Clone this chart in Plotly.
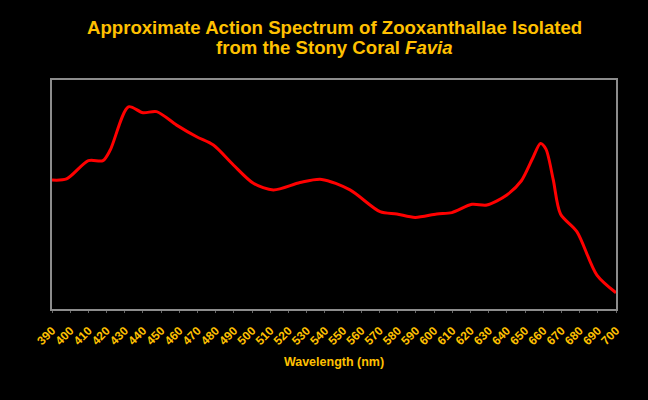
import plotly.graph_objects as go

wavelength = [390, 398, 410, 418, 422, 432, 440, 447.5, 458.5, 469.5, 478.7, 489.7, 500.7,
              511.7, 526.3, 538.2, 553.8, 570.3, 579.5, 589.6, 601.5, 609.8, 620.8, 629,
              640, 648, 654, 658.5, 661.5, 665.5, 669.5, 678.5, 689.5, 700]
activity = [56.3, 56.8, 64.8, 64.8, 69.4, 88.3, 85.7, 86.2, 80.3, 75.2, 71.6, 62.9, 54.9,
            52.0, 55.2, 56.6, 52.0, 42.5, 41.5, 40.0, 41.5, 42.1, 45.7, 45.4,
            49.8, 56.0, 65.5, 72.3, 69.8, 56.5, 41.5, 33.8, 14.8, 7.1]
tick_vals = list(range(390, 701, 10))
tick_text = [str(v) for v in tick_vals]
title_lines = ["Approximate Action Spectrum of Zooxanthallae Isolated",
               "from the Stony Coral <i>Favia</i>"]

gold = "#FFC000"
font = "Liberation Sans, Arial, sans-serif"

fig = go.Figure(go.Scatter(
    x=wavelength, y=activity, mode="lines",
    line=dict(color="#FF0000", width=3, shape="spline", smoothing=0.8),
    hoverinfo="skip"))

for i, line in enumerate(title_lines):
    fig.add_annotation(
        text="<b>" + line + "</b>", xref="paper", yref="paper",
        x=0.5, y=1 + (53 - 20 * i) / 229, xanchor="center", yanchor="middle",
        showarrow=False, font=dict(family=font, size=18.6, color=gold))

fig.update_layout(
    width=648, height=400,
    paper_bgcolor="black", plot_bgcolor="black",
    margin=dict(l=52, r=32, t=80, b=91),
    showlegend=False,
    xaxis=dict(
        range=[390, 700], tickvals=tick_vals, ticktext=tick_text,
        tickangle=-45, tickfont=dict(family=font, size=12, color=gold, weight="bold"),
        showgrid=False, zeroline=False,
        showline=True, linecolor="#8c8c8c", linewidth=2, mirror=True,
        ticks="outside", ticklen=2, tickcolor="#666666", ticklabelstandoff=6,
        title=dict(text="<b>Wavelength (nm)</b>", font=dict(family=font, size=12.5, color=gold),
                   standoff=10)),
    yaxis=dict(
        range=[0, 100], showticklabels=False, showgrid=False, zeroline=False,
        showline=True, linecolor="#8c8c8c", linewidth=2, mirror=True, ticks=""),
)

fig.write_html("out.html", config={"displayModeBar": False},
               post_script="document.body.style.margin='0';document.body.style.background='black';")
